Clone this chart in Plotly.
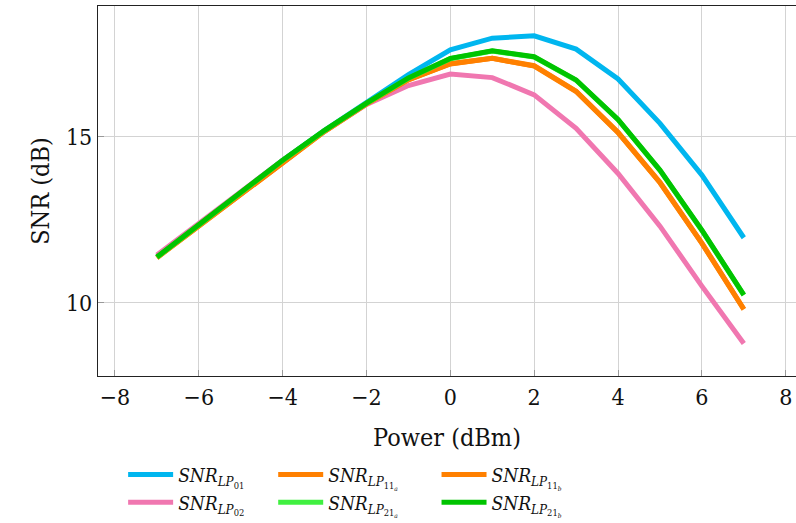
import plotly.graph_objects as go

power = [-7, -6, -5, -4, -3, -2, -1, 0, 1, 2, 3, 4, 5, 6, 7]
snr_lp01 = [11.38, 12.34, 13.30, 14.30, 15.20, 16.03, 16.88, 17.63, 17.98, 18.05, 17.65, 16.75, 15.41, 13.85, 11.96]
snr_lp02 = [11.44, 12.40, 13.35, 14.30, 15.17, 15.98, 16.55, 16.90, 16.79, 16.27, 15.26, 13.90, 12.31, 10.50, 8.77]
snr_lp11a = [11.36, 12.31, 13.27, 14.25, 15.17, 16.00, 16.72, 17.20, 17.37, 17.14, 16.37, 15.13, 13.62, 11.79, 9.80]
snr_lp11b = [11.36, 12.31, 13.27, 14.25, 15.17, 16.00, 16.73, 17.21, 17.37, 17.15, 16.38, 15.14, 13.63, 11.80, 9.81]
snr_lp21a = [11.37, 12.33, 13.29, 14.29, 15.19, 16.01, 16.77, 17.36, 17.59, 17.41, 16.71, 15.52, 13.99, 12.18, 10.23]
snr_lp21b = [11.38, 12.34, 13.30, 14.30, 15.20, 16.02, 16.78, 17.37, 17.60, 17.42, 16.72, 15.53, 14.00, 12.19, 10.24]

x_ticks = [-8, -6, -4, -2, 0, 2, 4, 6, 8]
y_ticks = [10, 15]

series = [
    ("<i>SNR</i><sub><i>LP</i><sub>01</sub></sub>", snr_lp01, "#00b6ef", "legend"),
    ("<i>SNR</i><sub><i>LP</i><sub>02</sub></sub>", snr_lp02, "#f077b0", "legend"),
    ("<i>SNR</i><sub><i>LP</i><sub>11<sub><i>a</i></sub></sub></sub>", snr_lp11a, "#ff8000", "legend2"),
    ("<i>SNR</i><sub><i>LP</i><sub>11<sub><i>b</i></sub></sub></sub>", snr_lp11b, "#ff8000", "legend3"),
    ("<i>SNR</i><sub><i>LP</i><sub>21<sub><i>a</i></sub></sub></sub>", snr_lp21a, "#40f040", "legend2"),
    ("<i>SNR</i><sub><i>LP</i><sub>21<sub><i>b</i></sub></sub></sub>", snr_lp21b, "#00c400", "legend3"),
]

fig = go.Figure()
for name, vals, col, leg in series:
    fig.add_trace(go.Scatter(x=power, y=vals, mode="lines", name=name,
                             line=dict(color=col, width=5), legend=leg))

font_family = "DejaVu Serif Condensed, DejaVu Serif"
axis_common = dict(showgrid=True, gridcolor="#d3d3d3", gridwidth=1,
                   showline=True, linecolor="#222", linewidth=1.3,
                   ticks="inside", ticklen=6, tickcolor="#999", tickwidth=1,
                   zeroline=False, tickfont=dict(family=font_family, size=23, color="#111"))

fig.update_xaxes(range=[-8.405, 8.245], tickvals=x_ticks,
                 ticktext=[("\u2212" + str(-v)) if v < 0 else str(v) for v in x_ticks],
                 mirror=True, **axis_common,
                 title=dict(text="Power (dBm)", font=dict(family=font_family, size=25, color="#111"), standoff=19))
fig.update_yaxes(range=[7.79, 18.95], tickvals=y_ticks, **axis_common,
                 title=dict(text="SNR (dB)", font=dict(family=font_family, size=25, color="#111"), standoff=9))

leg_common = dict(orientation="v", xanchor="left", yanchor="top", y=-0.2154,
                  font=dict(family=font_family, size=19, color="#111"),
                  bgcolor="rgba(0,0,0,0)", itemwidth=45, tracegroupgap=0)
fig.update_layout(
    width=796, height=523,
    margin=dict(l=98, r=0, t=6, b=147),
    plot_bgcolor="white", paper_bgcolor="white",
    showlegend=True,
    legend=dict(x=0.036, **leg_common),
    legend2=dict(x=0.251, **leg_common),
    legend3=dict(x=0.485, **leg_common),
)

fig.write_html("out.html")
